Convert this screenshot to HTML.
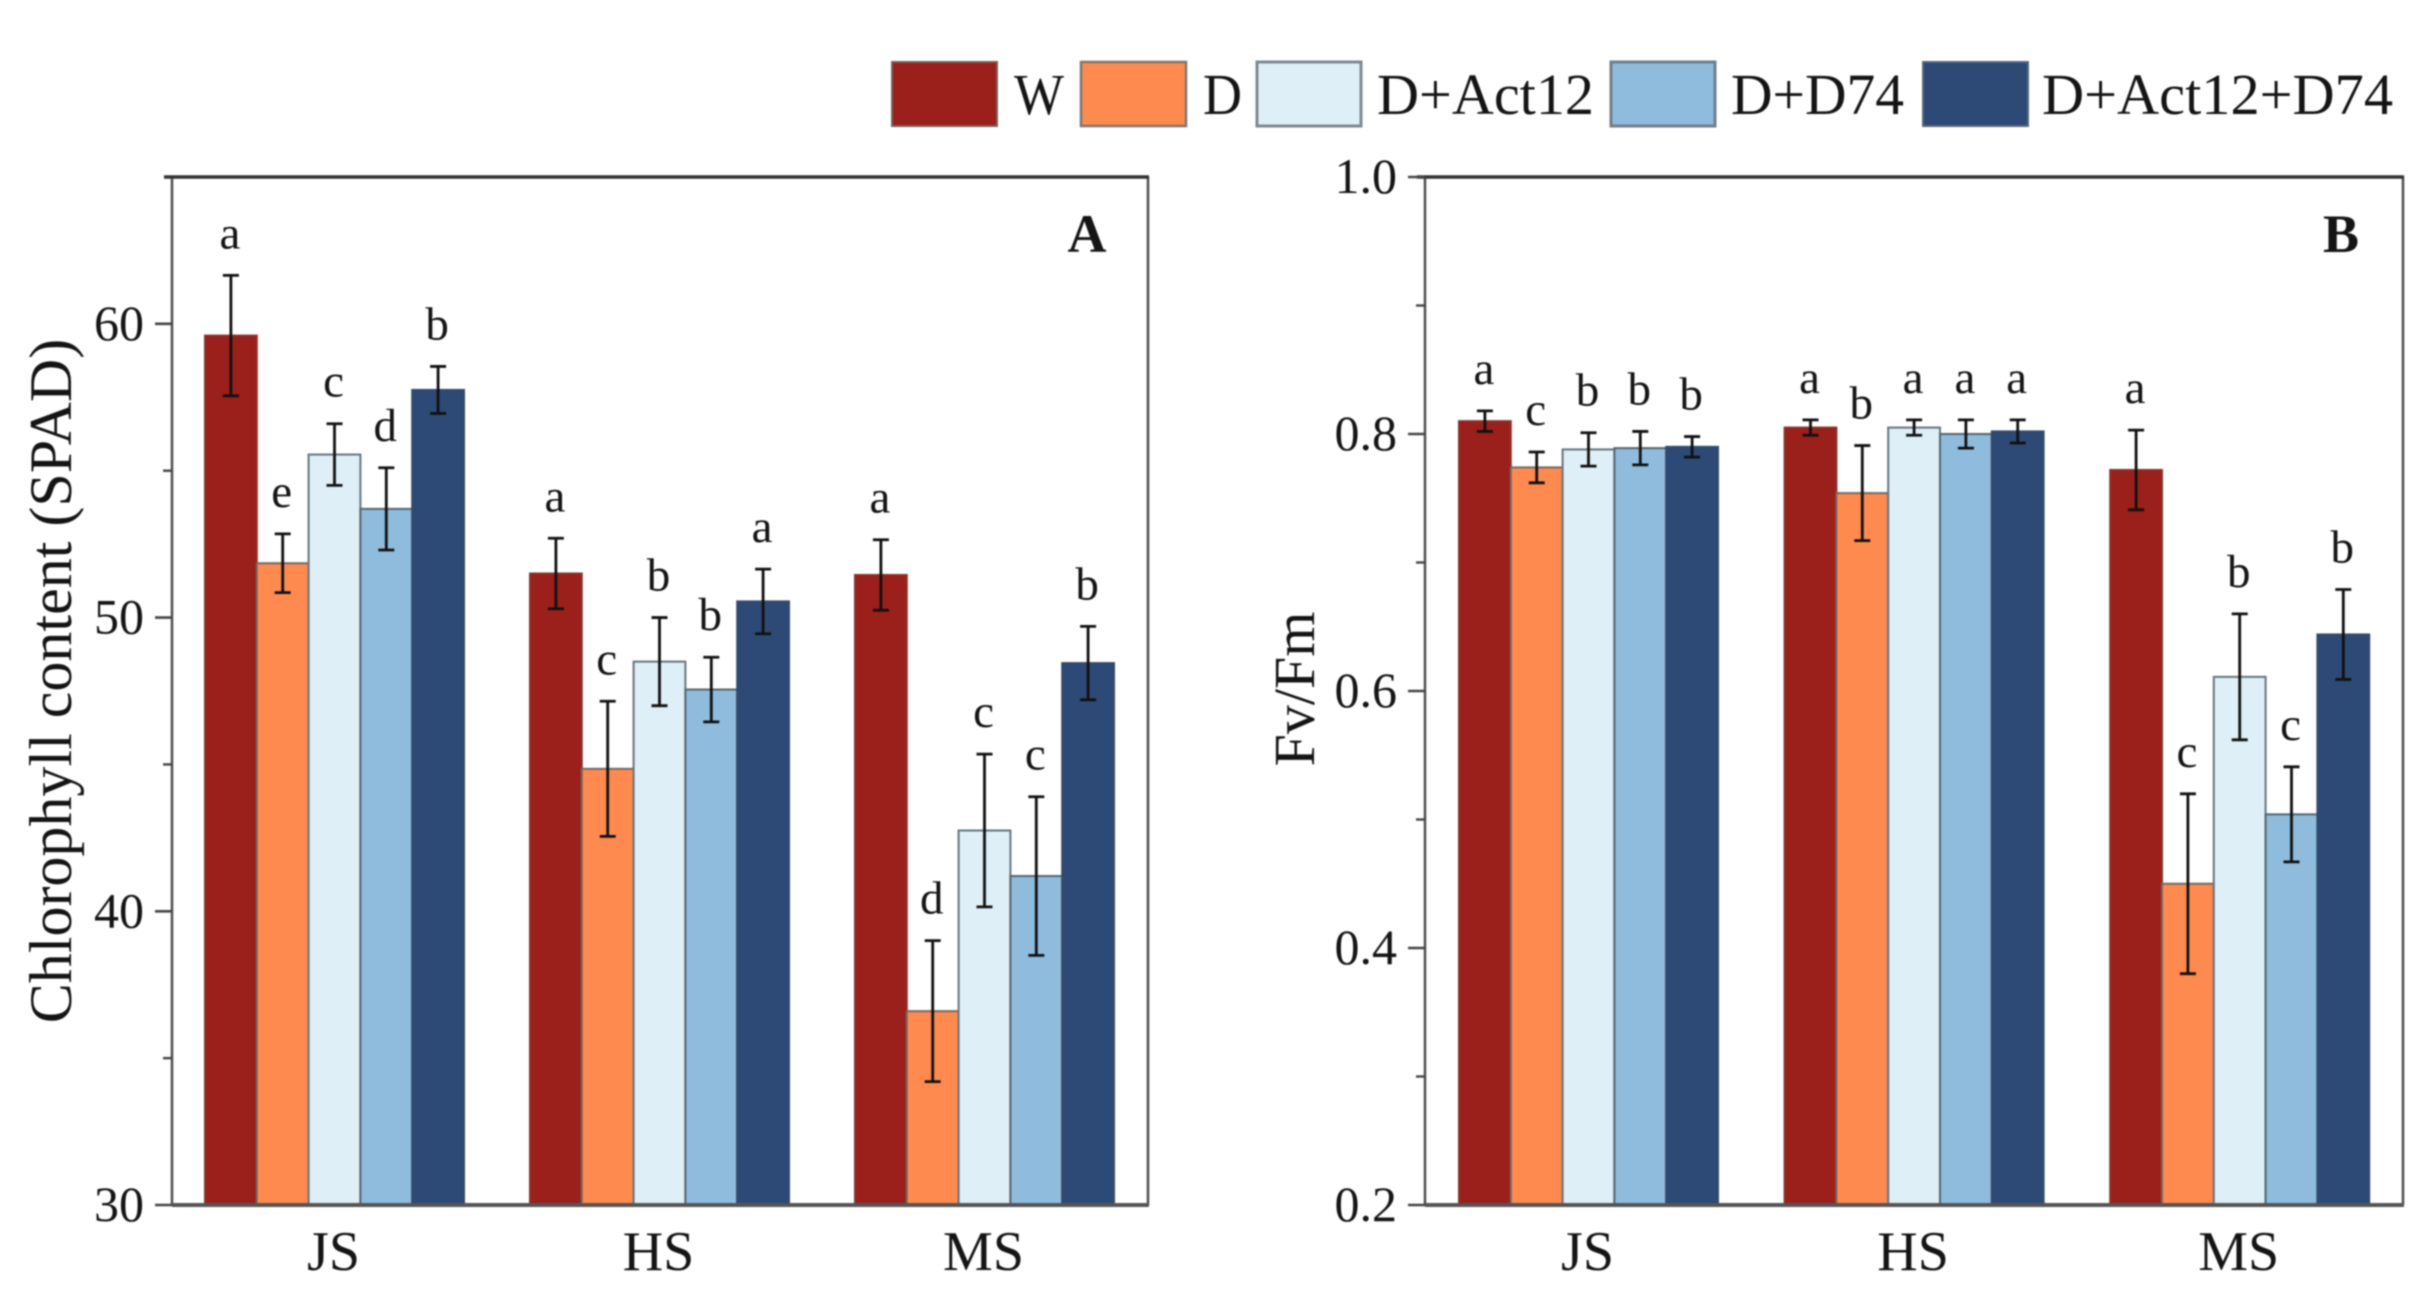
<!DOCTYPE html>
<html lang="en">
<head>
<meta charset="utf-8">
<title>Chlorophyll content and Fv/Fm</title>
<style>
html,body{margin:0;padding:0;background:#fff;width:2427px;height:1314px;overflow:hidden}
svg{display:block;filter:blur(0.9px)}
text{font-family:"Liberation Serif","Times New Roman",serif;fill:#141414}
</style>
</head>
<body>
<svg id="chart" xmlns="http://www.w3.org/2000/svg" width="2427" height="1314" viewBox="0 0 2427 1314">
  <rect x="0" y="0" width="2427" height="1314" fill="#fff"/>
  <g font-size="58">
    <rect x="892" y="62" width="105" height="64" fill="#9b1f1a" stroke="#77605c" stroke-width="2"/>
    <text x="1014" y="114" textLength="50" lengthAdjust="spacingAndGlyphs">W</text>
    <rect x="1081" y="62" width="105" height="64" fill="#ff8a50" stroke="#7d7670" stroke-width="2.5"/>
    <text x="1203" y="114" textLength="39" lengthAdjust="spacingAndGlyphs">D</text>
    <rect x="1257" y="62" width="104" height="64" fill="#dfeff7" stroke="#7d8a90" stroke-width="3"/>
    <text x="1377" y="114" textLength="217" lengthAdjust="spacingAndGlyphs">D+Act12</text>
    <rect x="1611" y="62" width="104" height="64" fill="#8fbcdd" stroke="#6f7f8c" stroke-width="3"/>
    <text x="1731" y="114" textLength="173" lengthAdjust="spacingAndGlyphs">D+D74</text>
    <rect x="1923" y="62" width="105" height="64" fill="#2c4a75" stroke="#55667f" stroke-width="2"/>
    <text x="2042" y="114" textLength="351" lengthAdjust="spacingAndGlyphs">D+Act12+D74</text>
  </g>
  <g id="panel-a"></g>
  <g id="panel-b"></g>
</svg>
<script>
const categories = ['JS', 'HS', 'MS'];
const seriesNames = ['W', 'D', 'D+Act12', 'D+D74', 'D+Act12+D74'];
const seriesColors = ['#9b1f1a', '#ff8a50', '#dfeff7', '#8fbcdd', '#2c4a75'];
const seriesEdges = ['#8a302b', '#75695f', '#65757d', '#56646f', '#34496a'];

const spadMajorTicks = [30, 40, 50, 60];
const spadMinorTicks = [35, 45, 55];
const spadTickLabels = ['30', '40', '50', '60'];
const spadW = [59.6, 51.5, 51.45];
const spadD = [51.85, 44.85, 36.6];
const spadAct12 = [55.55, 48.5, 42.75];
const spadD74 = [53.7, 47.55, 41.2];
const spadBoth = [57.75, 50.55, 48.45];
const spadErrW = [2.05, 1.2, 1.2];
const spadErrD = [1.0, 2.3, 2.4];
const spadErrAct12 = [1.05, 1.5, 2.6];
const spadErrD74 = [1.4, 1.1, 2.7];
const spadErrBoth = [0.8, 1.1, 1.25];
const spadLetters = [['a', 'e', 'c', 'd', 'b'], ['a', 'c', 'b', 'b', 'a'], ['a', 'd', 'c', 'c', 'b']];

const fvMajorTicks = [0.2, 0.4, 0.6, 0.8, 1.0];
const fvMinorTicks = [0.3, 0.5, 0.7, 0.9];
const fvTickLabels = ['0.2', '0.4', '0.6', '0.8', '1.0'];
const fvW = [0.81, 0.805, 0.772];
const fvD = [0.774, 0.754, 0.45];
const fvAct12 = [0.788, 0.805, 0.611];
const fvD74 = [0.789, 0.8, 0.504];
const fvBoth = [0.79, 0.802, 0.644];
const fvErrW = [0.008, 0.006, 0.031];
const fvErrD = [0.012, 0.037, 0.07];
const fvErrAct12 = [0.013, 0.006, 0.049];
const fvErrD74 = [0.013, 0.011, 0.037];
const fvErrBoth = [0.008, 0.009, 0.035];
const fvLetters = [['a', 'c', 'b', 'b', 'b'], ['a', 'b', 'a', 'a', 'a'], ['a', 'c', 'b', 'c', 'b']];

const SVGNS = 'http://www.w3.org/2000/svg';

function make(parent, tag, attrs, content) {
  const el = document.createElementNS(SVGNS, tag);
  for (const k in attrs) el.setAttribute(k, attrs[k]);
  if (content !== undefined) el.textContent = content;
  parent.appendChild(el);
  return el;
}

function drawPanel(cfg) {
  const root = document.getElementById(cfg.id);
  const y = v => cfg.bottom - (v - cfg.yMin) / (cfg.yMax - cfg.yMin) * (cfg.bottom - cfg.top);
  const barX = (g, s) => cfg.firstBar + g * cfg.groupStep + s * cfg.barWidth;

  categories.forEach((cat, g) => {
    cfg.means.forEach((series, s) => {
      const top = y(series[g]);
      const bar = make(root, 'rect', {
        x: barX(g, s), y: top, width: cfg.barWidth, height: cfg.bottom - top,
        fill: seriesColors[s], stroke: seriesEdges[s], 'stroke-width': 2
      });
      
      
    });
  });

  categories.forEach((cat, g) => {
    cfg.means.forEach((series, s) => {
      const cx = barX(g, s) + cfg.barWidth / 2;
      const hi = y(series[g] + cfg.errs[s][g]);
      const lo = y(series[g] - cfg.errs[s][g]);
      const err = make(root, 'path', {
        d: 'M' + (cx - 8) + ' ' + hi + 'H' + (cx + 8) + 'M' + cx + ' ' + hi + 'V' + lo + 'M' + (cx - 8) + ' ' + lo + 'H' + (cx + 8),
        fill: 'none', stroke: '#111', 'stroke-width': 2.8
      });
      
      
      const letter = make(root, 'text', {
        x: cx - 1, y: hi - 27, 'text-anchor': 'middle', 'font-size': 47
      }, cfg.letters[g][s]);
      
      
    });
    const lbl = make(root, 'text', {
      x: barX(g, 2) + cfg.barWidth / 2 - 1, y: 1270, 'text-anchor': 'middle', 'font-size': 56
    }, cat);
    
    
  });

  const frame = make(root, 'path', {
    d: 'M' + cfg.left + ' ' + cfg.top + 'V' + cfg.bottom + 'M' + cfg.right + ' ' + cfg.top + 'V' + cfg.bottom,
    fill: 'none', stroke: '#4d4d4d', 'stroke-width': 2.5
  });
  
  
  const topLine = make(root, 'line', {
    x1: cfg.left - 8, x2: cfg.right + 1, y1: cfg.top, y2: cfg.top, stroke: '#333', 'stroke-width': 3.5
  });
  
  
  const bottomLine = make(root, 'line', {
    x1: cfg.left, x2: cfg.right + 1, y1: cfg.bottom, y2: cfg.bottom, stroke: '#555', 'stroke-width': 4
  });
  
  

  cfg.major.forEach((v, i) => {
    const tick = make(root, 'line', {
      x1: cfg.left - 17, x2: cfg.left, y1: y(v), y2: y(v), stroke: '#444', 'stroke-width': 2.6
    });
    
    
    const lbl = make(root, 'text', {
      x: cfg.left - 28, y: y(v) + 16, 'text-anchor': 'end', 'font-size': 50
    }, cfg.tickLabels[i]);
    
    
  });
  cfg.minor.forEach(v => {
    const tick = make(root, 'line', {
      x1: cfg.left - 9, x2: cfg.left, y1: y(v), y2: y(v), stroke: '#444', 'stroke-width': 2.4
    });
    
    
  });

  const title = make(root, 'text', {
    transform: 'translate(' + cfg.titleX + ' ' + cfg.titleY + ') rotate(-90)',
    'text-anchor': 'middle', 'font-size': cfg.titleSize
  }, cfg.title);
  
  

  const tag = make(root, 'text', {
    x: cfg.tagX, y: 252, 'text-anchor': 'middle', 'font-size': 54, 'font-weight': 'bold'
  }, cfg.tag);
  
  
}

drawPanel({
  id: 'panel-a', left: 172, right: 1148, top: 177, bottom: 1205,
  yMin: 30, yMax: 65, firstBar: 205, groupStep: 325, barWidth: 51.8,
  means: [spadW, spadD, spadAct12, spadD74, spadBoth],
  errs: [spadErrW, spadErrD, spadErrAct12, spadErrD74, spadErrBoth],
  letters: spadLetters, major: spadMajorTicks, minor: spadMinorTicks, tickLabels: spadTickLabels,
  title: 'Chlorophyll content (SPAD)', titleSize: 60, titleX: 71, titleY: 681, tag: 'A', tagX: 1087
});

drawPanel({
  id: 'panel-b', left: 1425, right: 2403, top: 177, bottom: 1205,
  yMin: 0.2, yMax: 1.0, firstBar: 1459, groupStep: 325.6, barWidth: 51.8,
  means: [fvW, fvD, fvAct12, fvD74, fvBoth],
  errs: [fvErrW, fvErrD, fvErrAct12, fvErrD74, fvErrBoth],
  letters: fvLetters, major: fvMajorTicks, minor: fvMinorTicks, tickLabels: fvTickLabels,
  title: 'Fv/Fm', titleSize: 58, titleX: 1314, titleY: 689, tag: 'B', tagX: 2341
});
</script>
</body>
</html>
